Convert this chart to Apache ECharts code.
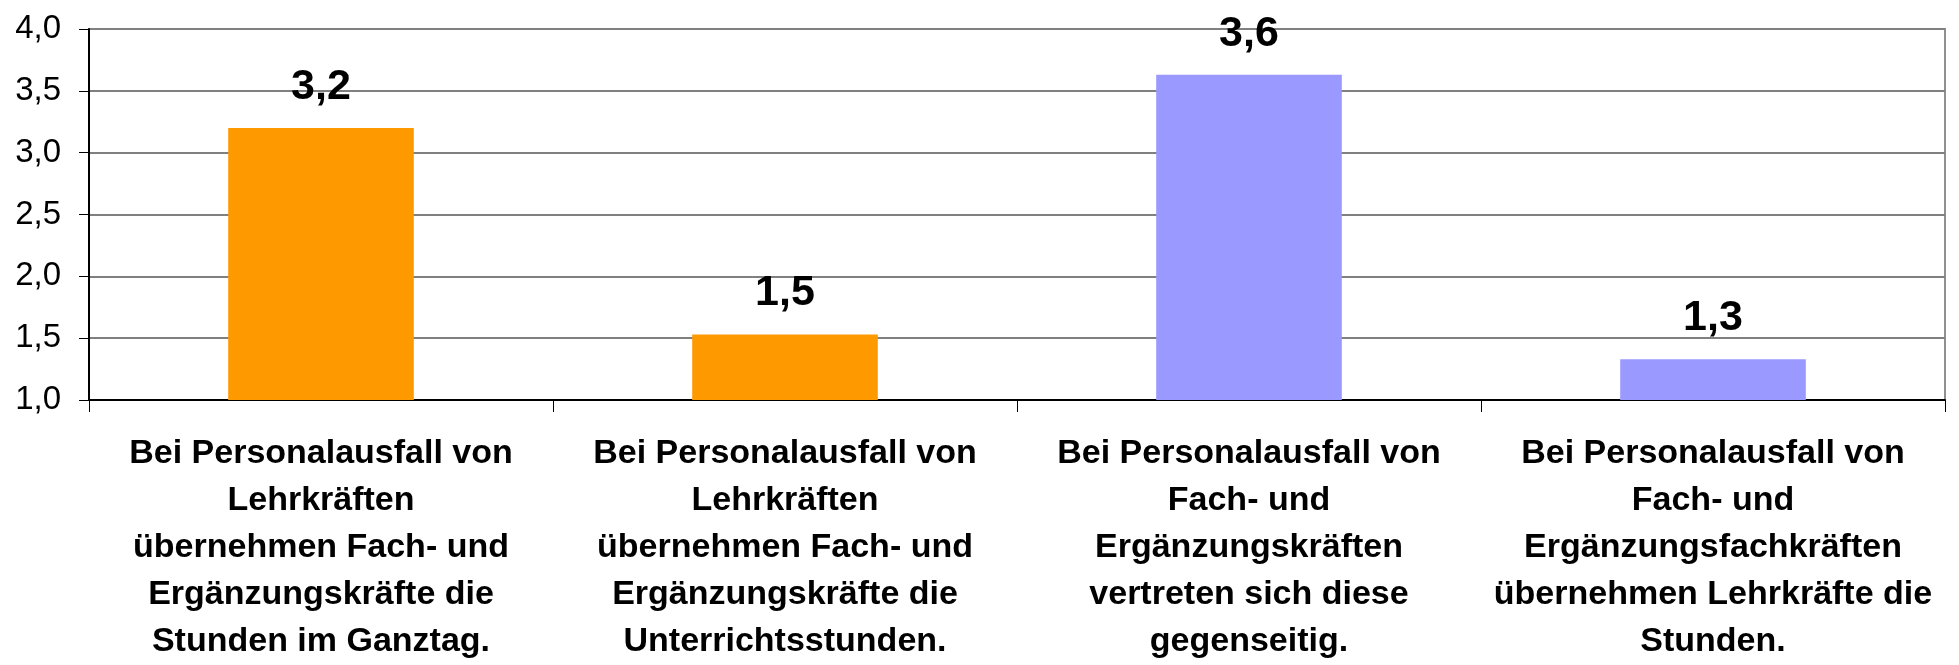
<!DOCTYPE html>
<html>
<head>
<meta charset="utf-8">
<script src="https://cdn.jsdelivr.net/npm/echarts@6/dist/echarts.min.js"></script>
<style>
  html, body { margin: 0; padding: 0; background: #fff; }
  #chart { width: 1959px; height: 665px; }
</style>
</head>
<body>
<div id="chart"></div>
<script>
// categories and values
const categories = [
  "Bei Personalausfall von\nLehrkräften\nübernehmen Fach- und\nErgänzungskräfte die\nStunden im Ganztag.",
  "Bei Personalausfall von\nLehrkräften\nübernehmen Fach- und\nErgänzungskräfte die\nUnterrichtsstunden.",
  "Bei Personalausfall von\nFach- und\nErgänzungskräften\nvertreten sich diese\ngegenseitig.",
  "Bei Personalausfall von\nFach- und\nErgänzungsfachkräften\nübernehmen Lehrkräfte die\nStunden."
];
const values = [3.2, 1.53, 3.63, 1.33];
const yTicks = { min: 1, max: 4, step: 0.5 };

const barColors = ["#FF9900", "#FF9900", "#9999FF", "#9999FF"];
const FONT = "'Liberation Sans', Arial, sans-serif";
const comma = (v) => v.toFixed(1).replace(".", ",");

const chart = echarts.init(document.getElementById("chart"));

chart.setOption({
  animation: false,
  backgroundColor: "#fff",
  textStyle: { fontFamily: FONT },
  grid: {
    left: 89,
    right: 14,
    top: 29,
    bottom: 265,
    containLabel: false,
    outerBoundsMode: "none",
    show: true,
    borderColor: "#909090",
    borderWidth: 2
  },
  xAxis: {
    type: "category",
    data: categories,
    axisLine: { lineStyle: { color: "#000", width: 2 } },
    axisTick: { show: true, length: 12, lineStyle: { color: "#000", width: 1 } },
    axisLabel: {
      interval: 0,
      margin: 30,
      color: "#000",
      fontFamily: FONT,
      fontSize: 34,
      fontWeight: "bold",
      lineHeight: 47,
      align: "center"
    }
  },
  yAxis: {
    type: "value",
    min: yTicks.min,
    max: yTicks.max,
    interval: yTicks.step,
    axisLine: { show: true, lineStyle: { color: "#000", width: 2 } },
    axisTick: { show: true, length: 10, lineStyle: { color: "#000" } },
    axisLabel: {
      margin: 28,
      color: "#000",
      fontFamily: FONT,
      fontSize: 33,
      formatter: (v) => comma(v)
    },
    splitLine: { lineStyle: { color: "#808080", width: 2 } }
  },
  series: [
    {
      type: "bar",
      barWidth: "40%",
      data: values.map((v, i) => ({ value: v, itemStyle: { color: barColors[i] } })),
      label: {
        show: true,
        position: "top",
        distance: 19,
        color: "#000",
        fontFamily: FONT,
        fontSize: 43,
        fontWeight: "bold",
        lineHeight: 44,
        formatter: (p) => comma(p.value)
      }
    }
  ]
});
</script>
</body>
</html>
